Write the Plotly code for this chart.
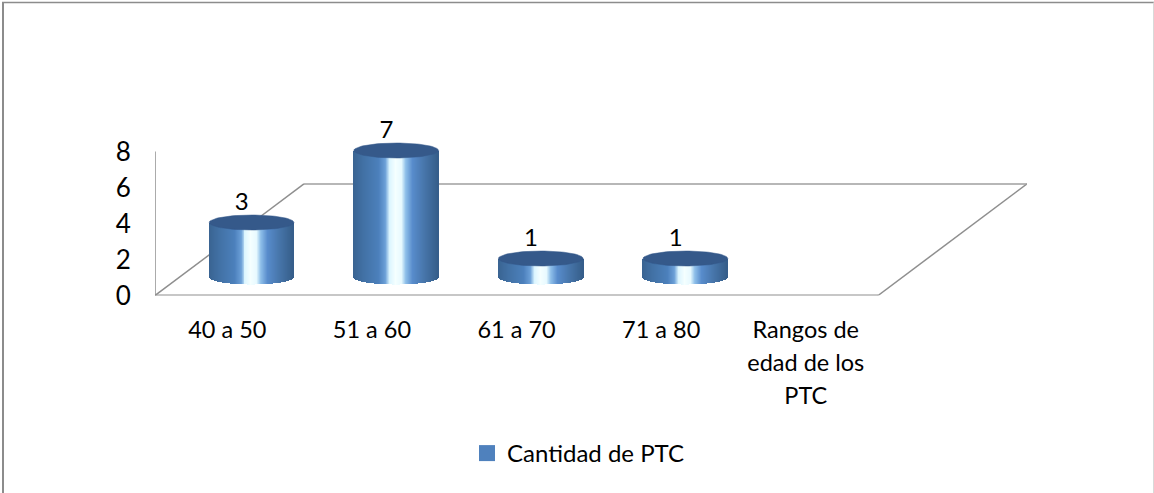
import numpy as np
import plotly.graph_objects as go

W, H = 1154, 493

# Data
categories = ["40 a 50", "51 a 60", "61 a 70", "71 a 80", "Rangos de<br>edad de los<br>PTC"]
series_name = "Cantidad de PTC"
values = [3, 7, 1, 1]
y_ticks = [0, 2, 4, 6, 8]

# Pseudo-3D geometry, in axis units
depth_x = 1.03
depth_y = 6.2
floor_lift = 1.055
cyl_shift = 0.168
cyl_rx = 0.293
cyl_ry = 0.417
label_shift = 0.1
label_lift = 1.02
n_slices = 85
y_top = 10
px_per_unit = 18

grad_t = [0, .12, .3, .38, .43, .5, .57, .62, .7, .85, 1]
grad_rgb = np.array([
    [58, 100, 146], [66, 113, 165], [76, 128, 188], [108, 160, 216], [220, 246, 255],
    [245, 255, 255], [232, 250, 255], [143, 192, 234], [88, 140, 204], [70, 116, 168], [54, 94, 138],
], dtype=float)


def shade(t):
    c = [np.interp(t, grad_t, grad_rgb[:, k]) for k in range(3)]
    return "rgb(%d,%d,%d)" % (c[0], c[1], c[2])


FONT = "Lato, Carlito, sans-serif"
fig = go.Figure()

# cylinder bodies: thin bars, bottom edge follows the ellipse
for i, v in enumerate(values):
    cx = i + cyl_shift
    t = (np.arange(n_slices) + 0.5) / n_slices
    xs = cx - cyl_rx + t * 2 * cyl_rx
    u = (xs - cx) / cyl_rx
    bases = floor_lift - cyl_ry * np.sqrt(np.clip(1 - u ** 2, 0, 1))
    tops = floor_lift + v
    fig.add_trace(go.Bar(
        x=xs, y=tops - bases, base=bases,
        width=2 * cyl_rx / n_slices * 1.25,
        marker=dict(color=[shade(a) for a in t], line=dict(width=0)),
        showlegend=False, hoverinfo="skip", cliponaxis=False,
    ))

# cylinder tops
theta = np.linspace(0, 2 * np.pi, 90)
for i, v in enumerate(values):
    cx = i + cyl_shift
    fig.add_trace(go.Scatter(
        x=cx + cyl_rx * np.cos(theta),
        y=floor_lift + v + cyl_ry * np.sin(theta),
        mode="lines", fill="toself", fillcolor="#35598a",
        line=dict(color="#35598a", width=0.5),
        showlegend=False, hoverinfo="skip", cliponaxis=False,
    ))

# data labels
fig.add_trace(go.Scatter(
    x=[i + label_shift for i in range(len(values))],
    y=[floor_lift + v + label_lift for v in values],
    mode="text", text=[str(v) for v in values], textposition="middle center",
    textfont=dict(family=FONT, size=24, color="#000000"),
    showlegend=False, hoverinfo="skip", cliponaxis=False,
))

# legend entry
fig.add_trace(go.Scatter(
    x=[None], y=[None], mode="markers", name=series_name,
    marker=dict(symbol="square", size=16, color="#4f81bd"),
))

n_cat = len(categories)
x_left, x_right = -0.5, n_cat - 0.5

shapes = [
    # value axis line
    dict(type="line", xref="x", yref="y", layer="below", x0=x_left, y0=0, x1=x_left, y1=max(y_ticks),
         line=dict(color="#8f8f8f", width=1.5)),
    # floor
    dict(type="line", xref="x", yref="y", layer="below", x0=x_left, y0=0, x1=x_right, y1=0,
         line=dict(color="#8f8f8f", width=2)),
    dict(type="line", xref="x", yref="y", layer="below", x0=x_right, y0=0, x1=x_right + depth_x, y1=depth_y,
         line=dict(color="#8f8f8f", width=1.5)),
    dict(type="line", xref="x", yref="y", layer="below", x0=x_right + depth_x, y0=depth_y, x1=x_left + depth_x, y1=depth_y,
         line=dict(color="#9f9f9f", width=1.5)),
    dict(type="line", xref="x", yref="y", layer="below", x0=x_left + depth_x, y0=depth_y, x1=x_left, y1=0,
         line=dict(color="#8f8f8f", width=1.5)),
    # outer frame
    dict(type="line", xref="paper", yref="paper", x0=3 / W, y0=1 - 2.5 / H, x1=3 / W, y1=0,
         line=dict(color="#8c8c8c", width=2)),
    dict(type="line", xref="paper", yref="paper", x0=2 / W, y0=1 - 2.5 / H, x1=1, y1=1 - 2.5 / H,
         line=dict(color="#8c8c8c", width=1.5)),
    dict(type="line", xref="paper", yref="paper", x0=1153.5 / W, y0=1 - 2.5 / H, x1=1153.5 / W, y1=0,
         line=dict(color="#d9d9d9", width=1)),
]

fig.update_layout(
    width=W, height=H, autosize=False,
    margin=dict(l=0, r=0, t=0, b=0, autoexpand=False),
    paper_bgcolor="#ffffff", plot_bgcolor="rgba(0,0,0,0)",
    barmode="overlay", bargap=0,
    font=dict(family=FONT, size=23, color="#000000"),
    shapes=shapes,
    xaxis=dict(
        domain=[155 / W, 1027 / W],
        range=[x_left, x_right + depth_x],
        tickmode="array", tickvals=list(range(n_cat)),
        ticktext=['<span style="font-size:23.5px">%s</span>' % c.replace("<br>", '</span><br><span style="font-size:23.5px">') for c in categories],
        tickangle=0, tickfont=dict(family=FONT, size=25.4, color="#000000"),
        showgrid=False, zeroline=False, showline=False, ticks="outside", ticklen=11, tickcolor="rgba(0,0,0,0)",
        automargin=False, fixedrange=True,
    ),
    yaxis=dict(
        domain=[1 - 295.5 / H, 1 - (295.5 - y_top * px_per_unit) / H],
        range=[0, y_top],
        tickmode="array", tickvals=y_ticks, ticktext=[str(v) for v in y_ticks],
        tickfont=dict(family=FONT, size=26, color="#000000"),
        showgrid=False, zeroline=False, showline=False,
        ticks="outside", ticklen=18, tickcolor="rgba(0,0,0,0)",
        automargin=False, fixedrange=True,
    ),
    showlegend=True,
    legend=dict(
        x=467 / W, y=1 - 431 / H, xanchor="left", yanchor="top",
        font=dict(family=FONT, size=24, color="#000000"),
        bgcolor="rgba(0,0,0,0)", itemwidth=30, tracegroupgap=0,
    ),
)

fig.write_html("out.html", config={"displayModeBar": False},
               post_script="document.body.style.margin='0';document.body.style.overflow='hidden';")
